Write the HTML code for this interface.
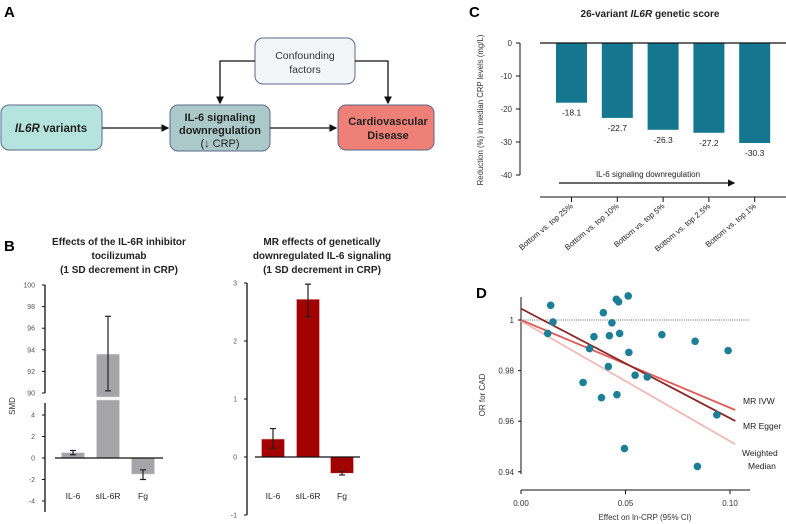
<!DOCTYPE html>
<html><head><meta charset="utf-8"><style>
html,body{margin:0;padding:0;background:#fff}
svg{display:block;font-family:"Liberation Sans",Arial,sans-serif}
</style></head><body>
<svg id="fig" width="786" height="524" viewBox="0 0 786 524" xmlns="http://www.w3.org/2000/svg">
<defs>
<marker id="ah" markerWidth="6" markerHeight="6" refX="5" refY="3" orient="auto"><path d="M0,0 L6,3 L0,6 z" fill="#111"/></marker>
</defs>
<g>
<text x="4" y="17" font-size="15" font-weight="bold">A</text>
<rect x="1" y="105" width="101" height="45" rx="8" fill="#b5e4df" stroke="#5a6a8a"/>
<text x="51" y="132" font-size="11.5" font-weight="bold" text-anchor="middle" fill="#222"><tspan font-style="italic">IL6R</tspan> variants</text>
<rect x="170" y="105" width="100" height="46" rx="8" fill="#abc9c9" stroke="#5a6a8a"/>
<text x="220" y="121" font-size="11" font-weight="bold" text-anchor="middle" fill="#222">IL-6 signaling</text>
<text x="220" y="134" font-size="11" font-weight="bold" text-anchor="middle" fill="#222">downregulation</text>
<text x="220" y="147" font-size="11" text-anchor="middle" fill="#222">(↓ CRP)</text>
<rect x="338" y="105" width="96" height="45" rx="8" fill="#ef8077" stroke="#5a6a8a"/>
<text x="388" y="125" font-size="11" font-weight="bold" text-anchor="middle" fill="#222">Cardiovascular</text>
<text x="388" y="139" font-size="11" font-weight="bold" text-anchor="middle" fill="#222">Disease</text>
<rect x="255" y="38" width="100" height="46" rx="8" fill="#f4f5f6" stroke="#5a6a8a"/>
<text x="305" y="59" font-size="10.5" text-anchor="middle" fill="#333">Confounding</text>
<text x="305" y="73" font-size="10.5" text-anchor="middle" fill="#333">factors</text>
<line x1="102" y1="128" x2="168" y2="128" stroke="#111" stroke-width="1.3" marker-end="url(#ah)"/>
<line x1="270" y1="128" x2="336" y2="128" stroke="#111" stroke-width="1.3" marker-end="url(#ah)"/>
<polyline points="255,61 220,61 220,103" fill="none" stroke="#111" stroke-width="1.3" marker-end="url(#ah)"/>
<polyline points="355,61 388,61 388,103" fill="none" stroke="#111" stroke-width="1.3" marker-end="url(#ah)"/>
</g>
<text x="4" y="251" font-size="15" font-weight="bold">B</text>
<g font-size="10" font-weight="bold" text-anchor="middle" fill="#222">
<text x="119" y="245">Effects of the IL-6R inhibitor</text>
<text x="119" y="259">tocilizumab</text>
<text x="119" y="273">(1 SD decrement in CRP)</text>
<text x="322" y="245">MR effects of genetically</text>
<text x="322" y="259">downregulated IL-6 signaling</text>
<text x="322" y="273">(1 SD decrement in CRP)</text>
</g>
<g id="bl"></g>
<g id="br"></g>
<text x="469" y="17" font-size="15" font-weight="bold">C</text>
<text x="650" y="17" font-size="10" font-weight="bold" text-anchor="middle" fill="#222">26-variant <tspan font-style="italic">IL6R</tspan> genetic score</text>
<g id="pc"></g>
<text x="476" y="298" font-size="15" font-weight="bold">D</text>
<g id="pd"></g>
</svg>
<script>
const bCats = ["IL-6","sIL-6R","Fg"];
const bLeftVals = [0.5, 93.6, -1.5];
const bLeftLo = [0.3, 90.2, -2.0];
const bLeftHi = [0.7, 97.1, -1.1];
const bLeftLowTicks = [4,2,0,-2,-4];
const bLeftHighTicks = [100,98,96,94,92,90];
const bRightVals = [0.31, 2.72, -0.28];
const bRightLo = [0.15, 2.42, -0.31];
const bRightHi = [0.49, 2.98, -0.25];
const bRightTicks = [3,2,1,0,-1];
const cCats = ["Bottom vs. top 25%","Bottom vs. top 10%","Bottom vs. top 5%","Bottom vs. top 2.5%","Bottom vs. top 1%"];
const cVals = [-18.1,-22.7,-26.3,-27.2,-30.3];
const cTicks = [0,-10,-20,-30,-40];
const dX = [0.0142,0.0153,0.0128,0.0394,0.0435,0.0456,0.0467,0.0513,0.0349,0.0423,0.0472,0.0328,0.0516,0.0674,0.0833,0.0991,0.0418,0.0546,0.0604,0.0297,0.0385,0.0459,0.0937,0.0495,0.0844];
const dY = [1.0058,0.9992,0.9947,1.0029,0.9989,1.0082,1.0072,1.0095,0.9934,0.9938,0.9947,0.9887,0.9872,0.9942,0.9916,0.9879,0.9816,0.9782,0.9775,0.9753,0.9693,0.9705,0.9625,0.9492,0.9421];
const dLineNames = ["MR IVW","MR Egger","Weighted Median"];
const dIntercepts = [1.0, 1.0045, 0.9996];
const dSlopes = [-0.347, -0.433, -0.475];
const dXTicks = [0.00,0.05,0.10];
const dYTicks = [1.00,0.98,0.96,0.94];

const NS="http://www.w3.org/2000/svg";
function mk(parent,tag,attrs,txt){const e=document.createElementNS(NS,tag);for(const k in attrs)e.setAttribute(k,attrs[k]);if(txt!==undefined)e.textContent=txt;parent.appendChild(e);return e;}

(function(){
const g=document.getElementById('bl');
const yLow=v=>458-v*10.75;
const yHigh=v=>393-(v-90)*10.8;
const ax=45, xs=[73,108,143], bw=23;
mk(g,'line',{x1:ax,y1:285,x2:ax,y2:393,stroke:'#111','stroke-width':1.3});
mk(g,'line',{x1:ax,y1:403,x2:ax,y2:512,stroke:'#111','stroke-width':1.3});
bLeftHighTicks.forEach(t=>{const y=yHigh(t);mk(g,'line',{x1:ax,y1:y,x2:ax-3,y2:y,stroke:'#111'});
const tx=mk(g,'text',{x:ax-10,y:y+2.5,'font-size':7,'text-anchor':'end',fill:'#555'},t);

});
bLeftLowTicks.forEach(t=>{const y=yLow(t);mk(g,'line',{x1:ax,y1:y,x2:ax-3,y2:y,stroke:'#111'});
const tx=mk(g,'text',{x:ax-10,y:y+2.5,'font-size':7,'text-anchor':'end',fill:'#555'},t);

});
const yl=mk(g,'text',{x:0,y:0,'font-size':8,'text-anchor':'middle',fill:'#333',transform:'translate(15,406) rotate(-90)'},'SMD');


bCats.forEach((c,i)=>{
 const v=bLeftVals[i];let r;
 if(v>10){
  r=mk(g,'rect',{x:xs[i]-bw/2,y:400,width:bw,height:yLow(0)-400,fill:'#a5a4a8',stroke:'#ddd','stroke-width':0.6});
  const r2=mk(g,'rect',{x:xs[i]-bw/2,y:yHigh(v),width:bw,height:397-yHigh(v),fill:'#a5a4a8',stroke:'#ddd','stroke-width':0.6});
  
  
  mk(g,'line',{x1:xs[i],y1:yHigh(bLeftLo[i]),x2:xs[i],y2:yHigh(bLeftHi[i]),stroke:'#222','stroke-width':1.2});
  [bLeftLo[i],bLeftHi[i]].forEach(e=>mk(g,'line',{x1:xs[i]-3,y1:yHigh(e),x2:xs[i]+3,y2:yHigh(e),stroke:'#222','stroke-width':1.2}));
 } else {
  const y0=yLow(0),y1=yLow(v);
  r=mk(g,'rect',{x:xs[i]-bw/2,y:Math.min(y0,y1),width:bw,height:Math.abs(y1-y0),fill:'#a5a4a8',stroke:'#ddd','stroke-width':0.6});
  mk(g,'line',{x1:xs[i],y1:yLow(bLeftLo[i]),x2:xs[i],y2:yLow(bLeftHi[i]),stroke:'#222','stroke-width':1.2});
  [bLeftLo[i],bLeftHi[i]].forEach(e=>mk(g,'line',{x1:xs[i]-3,y1:yLow(e),x2:xs[i]+3,y2:yLow(e),stroke:'#222','stroke-width':1.2}));
 }
 
 
 const t=mk(g,'text',{x:xs[i],y:499,'font-size':8.5,'text-anchor':'middle',fill:'#222'},c);
 
 
});
mk(g,'line',{x1:55,y1:yLow(0),x2:163,y2:yLow(0),stroke:'#111','stroke-width':1.3});
})();

(function(){
const g=document.getElementById('br');
const y=v=>457-v*58;
const ax=247, xs=[273,308,342], bw=23;
mk(g,'line',{x1:ax,y1:283,x2:ax,y2:515,stroke:'#111','stroke-width':1.3});
bRightTicks.forEach(t=>{mk(g,'line',{x1:ax,y1:y(t),x2:ax-3,y2:y(t),stroke:'#111'});
const tx=mk(g,'text',{x:ax-10,y:y(t)+2.5,'font-size':7,'text-anchor':'end',fill:'#555'},t);

});
bCats.forEach((c,i)=>{
 const v=bRightVals[i];const y0=y(0),y1=y(v);
 const r=mk(g,'rect',{x:xs[i]-bw/2,y:Math.min(y0,y1),width:bw,height:Math.abs(y1-y0),fill:'#a30000',stroke:'#e8c0c0','stroke-width':0.6});
 
 
 mk(g,'line',{x1:xs[i],y1:y(bRightLo[i]),x2:xs[i],y2:y(bRightHi[i]),stroke:'#222','stroke-width':1.2});
 [bRightLo[i],bRightHi[i]].forEach(e=>mk(g,'line',{x1:xs[i]-3,y1:y(e),x2:xs[i]+3,y2:y(e),stroke:'#222','stroke-width':1.2}));
 const t=mk(g,'text',{x:xs[i],y:499,'font-size':8.5,'text-anchor':'middle',fill:'#222'},c);
 
 
});
mk(g,'line',{x1:255,y1:y(0),x2:360,y2:y(0),stroke:'#111','stroke-width':1.3});
})();

(function(){
const g=document.getElementById('pc');
const y=v=>43-v*3.3;
const ax=520, x0=571.5, step=45.8, bw=31;
mk(g,'line',{x1:ax,y1:43,x2:ax,y2:175,stroke:'#111'});
cTicks.forEach(t=>{mk(g,'line',{x1:ax,y1:y(t),x2:ax-4,y2:y(t),stroke:'#111'});
const tx=mk(g,'text',{x:ax-8,y:y(t)+3,'font-size':8,'text-anchor':'end',fill:'#333'},t);

});
const yl=mk(g,'text',{x:0,y:0,'font-size':7.8,'text-anchor':'middle',fill:'#333',transform:'translate(483,110) rotate(-90)'},'Reduction (%) in median CRP levels (mg/L)');


mk(g,'line',{x1:540,y1:197,x2:786,y2:197,stroke:'#111'});
cCats.forEach((c,i)=>{
 const cx=x0+i*step;
 const r=mk(g,'rect',{x:cx-bw/2,y:y(0),width:bw,height:y(cVals[i])-y(0),fill:'#14778f'});
 
 
 const vt=mk(g,'text',{x:cx,y:y(cVals[i])+13,'font-size':8.5,'text-anchor':'middle',fill:'#222'},cVals[i].toFixed(1));
 
 
 mk(g,'line',{x1:cx,y1:197,x2:cx,y2:202,stroke:'#111'});
 const t=mk(g,'text',{x:0,y:0,'font-size':7.8,'text-anchor':'end',fill:'#222',transform:`translate(${cx+2},${207}) rotate(-40)`},c);
 
 
});
mk(g,'line',{x1:540,y1:y(0),x2:786,y2:y(0),stroke:'#111','stroke-width':1.2});
const ar=mk(g,'line',{x1:559,y1:183,x2:734,y2:183,stroke:'#111','stroke-width':1.2,'marker-end':'url(#ah)'});


const at=mk(g,'text',{x:648,y:177,'font-size':8,'text-anchor':'middle',fill:'#222'},'IL-6 signaling downregulation');


})();

(function(){
const g=document.getElementById('pd');
const X=v=>521+v*2090;
const Y=v=>320+(1-v)*2530;
mk(g,'line',{x1:521,y1:297,x2:521,y2:474,stroke:'#111'});
mk(g,'line',{x1:521,y1:490,x2:750,y2:490,stroke:'#111'});
dYTicks.forEach(t=>{mk(g,'line',{x1:521,y1:Y(t),x2:518,y2:Y(t),stroke:'#111'});
const tx=mk(g,'text',{x:514,y:Y(t)+3,'font-size':8,'text-anchor':'end',fill:'#333'},t===1?'1':t.toFixed(2));

});
dXTicks.forEach(t=>{mk(g,'line',{x1:X(t),y1:490,x2:X(t),y2:494,stroke:'#111'});
const tx=mk(g,'text',{x:X(t),y:506,'font-size':8,'text-anchor':'middle',fill:'#333'},t.toFixed(2));

});
const ref=mk(g,'line',{x1:521,y1:Y(1),x2:750,y2:Y(1),stroke:'#333','stroke-dasharray':'1,1.2','stroke-width':0.8});


const cols=['#e05a58','#8e2323','#f2b9b6'];
[2,0,1].forEach(i=>{
 const x1=0,x2=0.1025;
 const l=mk(g,'line',{x1:X(x1),y1:Y(dIntercepts[i]+dSlopes[i]*x1),x2:X(x2),y2:Y(dIntercepts[i]+dSlopes[i]*x2),stroke:cols[i],'stroke-width':1.8});
 
 
});
dX.forEach((x,i)=>{
 const c=mk(g,'circle',{cx:X(x),cy:Y(dY[i]),r:3.8,fill:'#1b7f98'});
 
 
});
const lbls=[['MR IVW',743,404],['MR Egger',743,429],['Weighted',742,456],['Median',748,469]];
lbls.forEach(a=>{const t=mk(g,'text',{x:a[1],y:a[2],'font-size':8.5,fill:'#222'},a[0]);

});
const yl=mk(g,'text',{x:0,y:0,'font-size':8,'text-anchor':'middle',fill:'#333',transform:'translate(485,395) rotate(-90)'},'OR for CAD');


const xl=mk(g,'text',{x:645,y:520,'font-size':8,'text-anchor':'middle',fill:'#333'},'Effect on ln-CRP (95% CI)');


})();
</script>
</body></html>
